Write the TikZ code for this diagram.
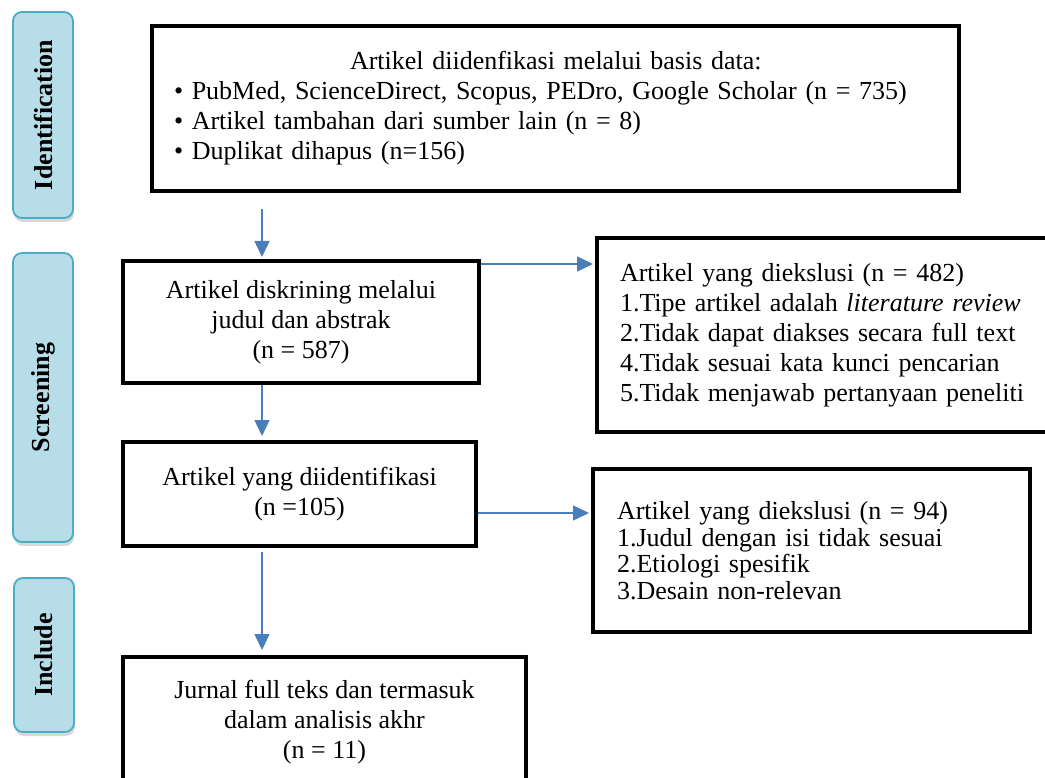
\documentclass[tikz,border=0pt]{standalone}
\usepackage{fontspec}
\setmainfont{Liberation Serif}
\usetikzlibrary{arrows.meta,shadows,calc}
\definecolor{arrblue}{HTML}{4A7EBB}
\definecolor{sidefill}{HTML}{B7DEE8}
\definecolor{sidedraw}{HTML}{4BACC6}
\begin{document}
\begin{tikzpicture}[x=1pt,y=-1pt,
  every node/.style={font=\fontsize{26}{30}\selectfont},
  box/.style={draw=black, line width=4pt, rectangle, inner ysep=0pt},
  side/.style={draw=sidedraw, fill=sidefill, line width=1.8pt, rounded corners=9pt,
    minimum width=60pt, inner sep=0pt,
    drop shadow={shadow xshift=1pt, shadow yshift=-4pt, opacity=0.3}},
  arr/.style={draw=arrblue, line width=1.5pt, -{Triangle[length=16pt,width=15pt]}}
]
\useasboundingbox[fill=white] (0,0) rectangle (1045,778);

% phase labels
\node[side, minimum height=206pt] (sid) at (43,115) {\rotatebox{90}{\bfseries Identification}};
\node[side, minimum height=289pt] (sscr) at (43,397.5) {\rotatebox{90}{\bfseries Screening}};
\node[side, minimum height=154pt] (sinc) at (44,655) {\rotatebox{90}{\bfseries Include}};

% main boxes
\node[box, anchor=north west, minimum height=165pt, text width=763pt, align=left, inner xsep=22pt]
  (ident) at (150,24)
  {\hspace*{176pt}Artikel diidenfikasi melalui basis data:\\
   •\ PubMed, ScienceDirect, Scopus, PEDro, Google Scholar (n = 735)\\
   •\ Artikel tambahan dari sumber lain (n = 8)\\
   •\ Duplikat dihapus (n=156)};

\node[box, minimum width=356pt, minimum height=122pt, align=center] (scr) at (301,322)
  {Artikel diskrining melalui\\ judul dan abstrak\\ (n = 587)};

\node[box, minimum width=353pt, minimum height=104pt, align=center] (sel) at (299.5,494)
  {Artikel yang diidentifikasi\\ (n =105)};

\node[box, minimum width=403pt, minimum height=130pt, align=center] (incl) at (324.5,722)
  {Jurnal full teks dan termasuk\\ dalam analisis akhr\\ (n = 11)};

\node[box, anchor=north west, minimum height=194pt, text width=429pt, align=left, inner xsep=23pt]
  (ex1) at (595,236)
  {Artikel yang diekslusi (n = 482)\\
   1.Tipe artikel adalah \textit{literature review}\\
   2.Tidak dapat diakses secara full text\\
   4.Tidak sesuai kata kunci pencarian\\
   5.Tidak menjawab pertanyaan peneliti};

\node[box, anchor=north west, minimum height=163pt, text width=389pt, align=left, inner xsep=24pt,
  font=\fontsize{26}{26.5}\selectfont]
  (ex2) at (591,467)
  {Artikel yang diekslusi (n = 94)\\
   1.Judul dengan isi tidak sesuai\\
   2.Etiologi spesifik\\
   3.Desain non-relevan};

% connectors
\coordinate (ax) at (262,0);
\draw[arr, shorten <=16pt, shorten >=2pt] (ident.south -| ax) -- (scr.north -| ax);
\draw[arr, shorten >=4pt] (scr.south -| ax) -- (sel.north -| ax);
\draw[arr, shorten <=4pt, shorten >=5pt] (sel.south -| ax) -- (incl.north -| ax);
\coordinate (r1) at ([yshift=-5pt]scr.north east);
\draw[arr, shorten >=2pt] (r1) -- (r1 -| ex1.west);
\coordinate (r2) at ([yshift=-19pt]sel.east);
\draw[arr, shorten >=2pt] (r2) -- (r2 -| ex2.west);
\end{tikzpicture}
\end{document}
